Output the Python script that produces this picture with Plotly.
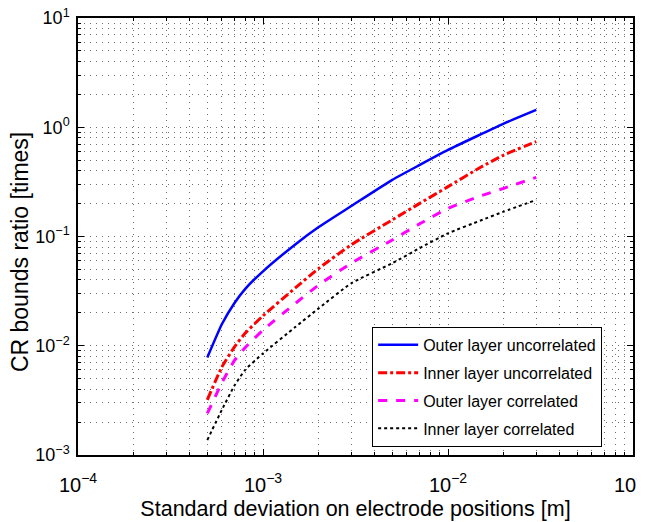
"""
CR bounds ratio vs. electrode position standard deviation
"""

import plotly.graph_objects as go


# data
sigma = [5e-4, 6e-4, 7e-4, 8e-4, 1e-3, 1.5e-3, 2e-3, 3e-3, 5e-3, 7e-3, 1e-2, 1.5e-2, 2e-2, 3e-2]
outer_uncorr = [0.0078, 0.0158, 0.0245, 0.033, 0.048, 0.085, 0.122, 0.19, 0.33, 0.45, 0.62, 0.86, 1.08, 1.44]
inner_uncorr = [0.0032, 0.0064, 0.0097, 0.013, 0.0188, 0.034, 0.051, 0.084, 0.142, 0.2, 0.286, 0.43, 0.557, 0.74]
outer_corr = [0.0024, 0.0046, 0.0073, 0.0096, 0.0139, 0.0245, 0.036, 0.057, 0.093, 0.13, 0.181, 0.235, 0.276, 0.348]
inner_corr = [0.00137, 0.0026, 0.0043, 0.006, 0.0085, 0.0149, 0.022, 0.0373, 0.057, 0.078, 0.107, 0.14, 0.169, 0.216]

x_ticks = [1e-4, 1e-3, 1e-2, 1e-1]
x_labels = ['10<sup>−4</sup>', '10<sup>−3</sup>', '10<sup>−2</sup>', '10<sup>−1</sup>']
y_ticks = [1e-3, 1e-2, 1e-1, 1e0, 1e1]
y_labels = ['10<sup>−3</sup>', '10<sup>−2</sup>', '10<sup>−1</sup>', '10<sup>0</sup>', '10<sup>1</sup>']

FONT = 'Liberation Sans, Arial, sans-serif'

fig = go.Figure()
fig.add_trace(go.Scatter(x=sigma, y=outer_uncorr, name='Outer layer uncorrelated', mode='lines', legendgroup='a',
                         line=dict(color='#0000ff', width=2.5, shape='spline', smoothing=0.5)))
fig.add_trace(go.Scatter(x=sigma, y=inner_uncorr, name='Inner layer uncorrelated', mode='lines', legendgroup='b',
                         line=dict(color='#ff0000', width=3, dash='dashdot', shape='spline', smoothing=0.5)))
fig.add_trace(go.Scatter(x=sigma, y=outer_corr, name='Outer layer correlated', mode='lines', legendgroup='c',
                         line=dict(color='#ff00ff', width=3, dash='dash', shape='spline', smoothing=0.5)))
fig.add_trace(go.Scatter(x=sigma, y=inner_corr, name='Inner layer correlated', mode='lines', legendgroup='d',
                         line=dict(color='#000000', width=2, dash='dot', shape='spline', smoothing=0.5)))

axis_common = dict(type='log', showline=True, linecolor='black', linewidth=1.5, automargin=False,
                   mirror='allticks', ticks='inside', ticklen=6, tickcolor='black', zeroline=False,
                   showgrid=True, gridcolor='#707070', gridwidth=1, griddash='1px,5px',
                   minor=dict(tickmode='linear', dtick='D1', ticks='inside', ticklen=3, tickcolor='black',
                              showgrid=True, gridcolor='#707070', gridwidth=1, griddash='1px,5px'),
                   ticklabeloverflow='allow')

# the page body adds an 8px offset, so margins are shifted to compensate
fig.update_layout(
    width=645, height=522,
    margin=dict(l=70, r=20, t=10, b=75),
    paper_bgcolor='white', plot_bgcolor='white',
    font=dict(family=FONT, color='black'),
    xaxis=dict(axis_common, range=[-4, -1], tickvals=x_ticks, ticktext=x_labels, ticklabelstandoff=11,
               tickfont=dict(size=20, color='black', family=FONT),
               title=dict(text='Standard deviation on electrode positions [m]', font=dict(size=21.5), standoff=6)),
    yaxis=dict(axis_common, range=[-3, 1], tickvals=y_ticks, ticktext=y_labels, ticklabelstandoff=3,
               tickfont=dict(size=18, color='black', family=FONT)),
    legend=dict(x=0.53, y=0.293, xanchor='left', yanchor='top', bgcolor='white', bordercolor='black',
                borderwidth=1, font=dict(size=16), traceorder='grouped', tracegroupgap=4, itemwidth=40),
    showlegend=True,
)
fig.add_annotation(text='CR bounds ratio [times]', textangle=-90, xref='paper', yref='paper',
                   x=-0.104, y=0.465, xanchor='center', yanchor='middle', showarrow=False,
                   font=dict(size=23, family=FONT, color='black'))

fig.write_html("out.html")
